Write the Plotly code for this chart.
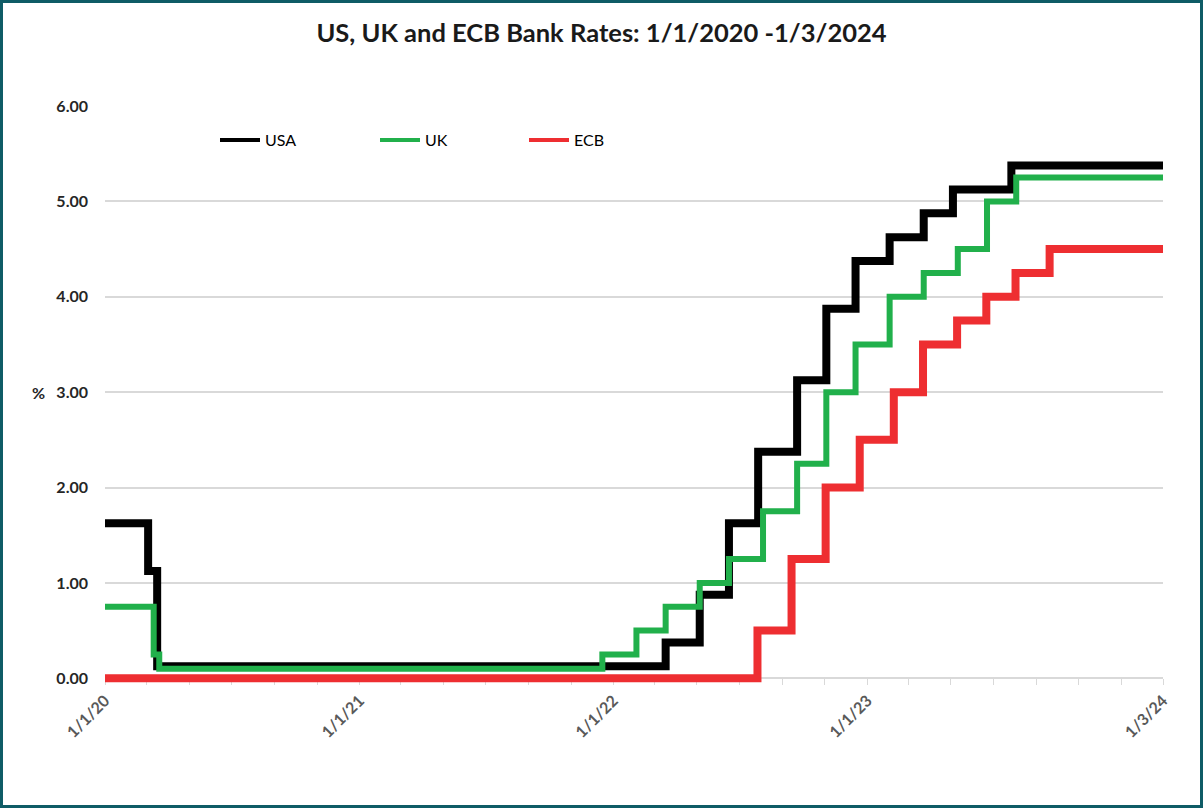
import plotly.graph_objects as go

usa_dates = ["2020-01-01", "2020-03-03", "2020-03-16", "2022-03-17", "2022-05-05", "2022-06-16",
             "2022-07-28", "2022-09-22", "2022-11-03", "2022-12-15", "2023-02-02", "2023-03-23",
             "2023-05-04", "2023-07-27", "2024-03-01"]
usa_rates = [1.625, 1.125, 0.125, 0.375, 0.875, 1.625, 2.375, 3.125, 3.875, 4.375, 4.625, 4.875,
             5.125, 5.375, 5.375]

uk_dates = ["2020-01-01", "2020-03-11", "2020-03-19", "2021-12-16", "2022-02-03", "2022-03-17",
            "2022-05-05", "2022-06-16", "2022-08-04", "2022-09-22", "2022-11-03", "2022-12-15",
            "2023-02-02", "2023-03-23", "2023-05-11", "2023-06-22", "2023-08-03", "2024-03-01"]
uk_rates = [0.75, 0.25, 0.10, 0.25, 0.50, 0.75, 1.00, 1.25, 1.75, 2.25, 3.00, 3.50, 4.00, 4.25,
            4.50, 5.00, 5.25, 5.25]

ecb_dates = ["2020-01-01", "2022-07-27", "2022-09-14", "2022-11-02", "2022-12-21", "2023-02-08",
             "2023-03-22", "2023-05-10", "2023-06-21", "2023-08-02", "2023-09-20", "2024-03-01"]
ecb_rates = [0.00, 0.50, 1.25, 2.00, 2.50, 3.00, 3.50, 3.75, 4.00, 4.25, 4.50, 4.50]

series_names = ["USA", "UK", "ECB"]
series_colors = ["#000000", "#21B04B", "#EE2E31"]
series_widths = [8, 6, 8]

tick_dates = ["2020-01-01", "2021-01-01", "2022-01-01", "2023-01-01", "2024-03-01"]
tick_labels = ["1/1/20", "1/1/21", "1/1/22", "1/1/23", "1/3/24"]
y_ticks = [0, 1, 2, 3, 4, 5, 6]

FONT = "Lato"
Y_MIN = -0.06

W, H = 1203, 808
L, R, T, B = 105, 40, 106, 124
pw, ph = W - L - R, H - T - B


def px_x(p):
    return (p - L) / pw


def px_y(p):
    return (H - B - p) / ph


fig = go.Figure()
all_x = [usa_dates, uk_dates, ecb_dates]
all_y = [usa_rates, uk_rates, ecb_rates]
for name, xs, ys, c, w in zip(series_names, all_x, all_y, series_colors, series_widths):
    fig.add_trace(go.Scatter(x=xs, y=ys, name=name, mode="lines", line_shape="hv",
                             line=dict(color=c, width=w), showlegend=False))

legend_x_px = [223, 383, 532]
legend_keys = ["legend", "legend2", "legend3"]
for name, c, key in zip(series_names, series_colors, legend_keys):
    fig.add_trace(go.Scatter(x=[None], y=[None], name=name, mode="lines",
                             line=dict(color=c, width=4), showlegend=True, legend=key))

legend_common = dict(orientation="h", xanchor="left", y=px_y(140), yanchor="middle",
                     bgcolor="rgba(0,0,0,0)", itemwidth=40, borderwidth=0,
                     font=dict(size=16, color="#000000", family=FONT))

fig.update_layout(
    width=W, height=H,
    margin=dict(l=L, r=R, t=T, b=B),
    paper_bgcolor="white", plot_bgcolor="white",
    font=dict(family=FONT, color="#000000"),
    title=dict(text="<b>US, UK and ECB Bank Rates: 1/1/2020 -1/3/2024</b>",
               x=0.5, xanchor="center", xref="container", y=1 - 33 / H, yanchor="middle",
               font=dict(size=25.5, color="#1a1a1a", family=FONT)),
    showlegend=True,
    legend=dict(x=px_x(legend_x_px[0] - 8), **legend_common),
    legend2=dict(x=px_x(legend_x_px[1] - 8), **legend_common),
    legend3=dict(x=px_x(legend_x_px[2] - 8), **legend_common),
    xaxis=dict(type="date", range=["2020-01-01", "2024-03-01"], tickvals=tick_dates,
               ticktext=[f"<b>{t}</b>" for t in tick_labels], tickangle=-45, showgrid=False,
               showline=True, linecolor="#d9d9d9", linewidth=1.5, ticks="outside", ticklen=6,
               tickcolor="#d9d9d9", tickfont=dict(size=16, color="#595959", family=FONT),
               zeroline=False, anchor="free", position=(0 - Y_MIN) / (6 - Y_MIN),
               layer="below traces",
               minor=dict(dtick="M2", tick0="2020-01-01", ticks="outside", ticklen=6,
                          tickcolor="#d9d9d9", showgrid=False)),
    yaxis=dict(range=[Y_MIN, 6], tickvals=y_ticks,
               ticktext=[f"<b>{v:.2f}</b>" for v in y_ticks], showgrid=True,
               gridcolor="#d9d9d9", gridwidth=1.5, zeroline=False, showline=False, ticks="",
               ticklabelstandoff=16, layer="below traces",
               tickfont=dict(size=16, color="#262626", family=FONT)),
)

fig.add_annotation(text="<b>%</b>", xref="paper", yref="paper", x=px_x(38), y=px_y(392),
                   showarrow=False, xanchor="center", yanchor="middle",
                   font=dict(size=16, color="#262626", family=FONT))

# outer frame
fig.add_shape(type="rect", xref="paper", yref="paper",
              x0=px_x(1.5), x1=px_x(W - 1.5), y0=px_y(H - 1.5), y1=px_y(1.5),
              line=dict(color="#0F5C66", width=3), fillcolor="rgba(0,0,0,0)", layer="above")

fig.write_html("out.html")
